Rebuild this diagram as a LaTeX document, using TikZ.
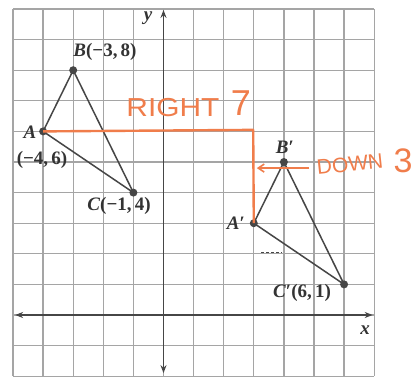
\documentclass[tikz,border=0pt]{standalone}
\usepackage{fontspec}
\setmainfont{Liberation Serif}
\newfontfamily\handfont{Liberation Sans}
\usetikzlibrary{arrows.meta}
\definecolor{hand}{RGB}{240,125,75}
\definecolor{gridgray}{RGB}{165,165,165}
\definecolor{ink}{RGB}{70,70,70}
\begin{document}
\begin{tikzpicture}[x=1pt,y=-1pt,
 gridline/.style={gridgray, line width=1.3pt},
 axisline/.style={ink, line width=1.6pt, {Stealth[length=8pt,width=6pt]}-{Stealth[length=8pt,width=6pt]}},
 tri/.style={ink, line width=1.5pt},
 dot/.style={circle, fill=ink, inner sep=0pt, minimum size=8pt},
 lbl/.style={font=\bfseries\fontsize{19}{19}\selectfont, text=black!80, inner sep=0pt},
 handline/.style={hand, line width=2.4pt},
 handtext/.style={hand, font=\handfont\fontsize{26}{26}\selectfont, inner sep=0pt}]
\useasboundingbox (0,0) rectangle (413,377);
\fill[white] (0,0) rectangle (413,377);
\begin{scope}[shift={(163.5,315)}, x=30.1pt, y=30.6pt]
 \foreach \i in {-5,...,7} \draw[gridline] (\i,-2) -- (\i,10);
 \foreach \j in {-2,...,10} \draw[gridline] (-5,\j) -- (7,\j);
 \coordinate (xl) at (-4.93,0);
 \coordinate (xr) at (6.95,0);
 \coordinate (yb) at (0,-1.9);
 \coordinate (yt) at (0,9.97);
 \draw[axisline] (xl) -- (xr);
 \draw[axisline] (yb) -- (yt);
 \node[dot] (A) at (-4,6) {};
 \node[dot] (B) at (-3,8) {};
 \node[dot] (C) at (-1,4) {};
 \node[dot] (A1) at (3,3) {};
 \node[dot] (B1) at (4,5) {};
 \node[dot] (C1) at (6,1) {};
 \draw[tri] (A.center) -- (B.center) -- (C.center) -- cycle;
 \draw[tri] (A1.center) -- (B1.center) -- (C1.center) -- cycle;
 \coordinate (d1) at (3.25,2.05);
 \coordinate (d2) at (3.95,2.05);
 \draw[ink, line width=1pt, dash pattern=on 3pt off 2pt] (d1) -- (d2);
 \coordinate (corner) at (2.98,6.05);
 \draw[handline, line join=round] (A.center) -- (corner) -- (A1.center);
 \coordinate (ar1) at (4.85,4.8);
 \coordinate (ar2) at (3.1,4.8);
 \draw[hand, line width=1.6pt, -{Straight Barb[length=6pt,width=8pt]}] (ar1) -- (ar2);
\end{scope}
\node[lbl] (ylab) at (148,18) {\textit{y}};
\node[lbl] (xlab) at (365,330) {\textit{x}};
\node[lbl] (Blab) at (105,52) {\textit{B}(−3,\,8)};
\node[lbl] (Alab) at (30,132) {\textit{A}};
\node[lbl] (Acoord) at (42,160) {(−4,\,6)};
\node[lbl] (Clab) at (119,206) {\textit{C}(−1,\,4)};
\node[lbl] (B1lab) at (285,147) {\textit{B}′};
\node[lbl] (A1lab) at (236,223) {\textit{A}′};
\node[lbl] (C1lab) at (302,293) {\textit{C}′(6,\,1)};
\node[handtext, xscale=1.15] (right) at (173,108) {RIGHT};
\node[handtext, font=\handfont\fontsize{36}{36}\selectfont] (seven) at (241,103) {7};
\node[handtext, font=\handfont\fontsize{21}{21}\selectfont, rotate=6] (down) at (350,164) {DOWN};
\node[handtext, font=\handfont\fontsize{34}{34}\selectfont] (three) at (403,161) {3};
\end{tikzpicture}
\end{document}
